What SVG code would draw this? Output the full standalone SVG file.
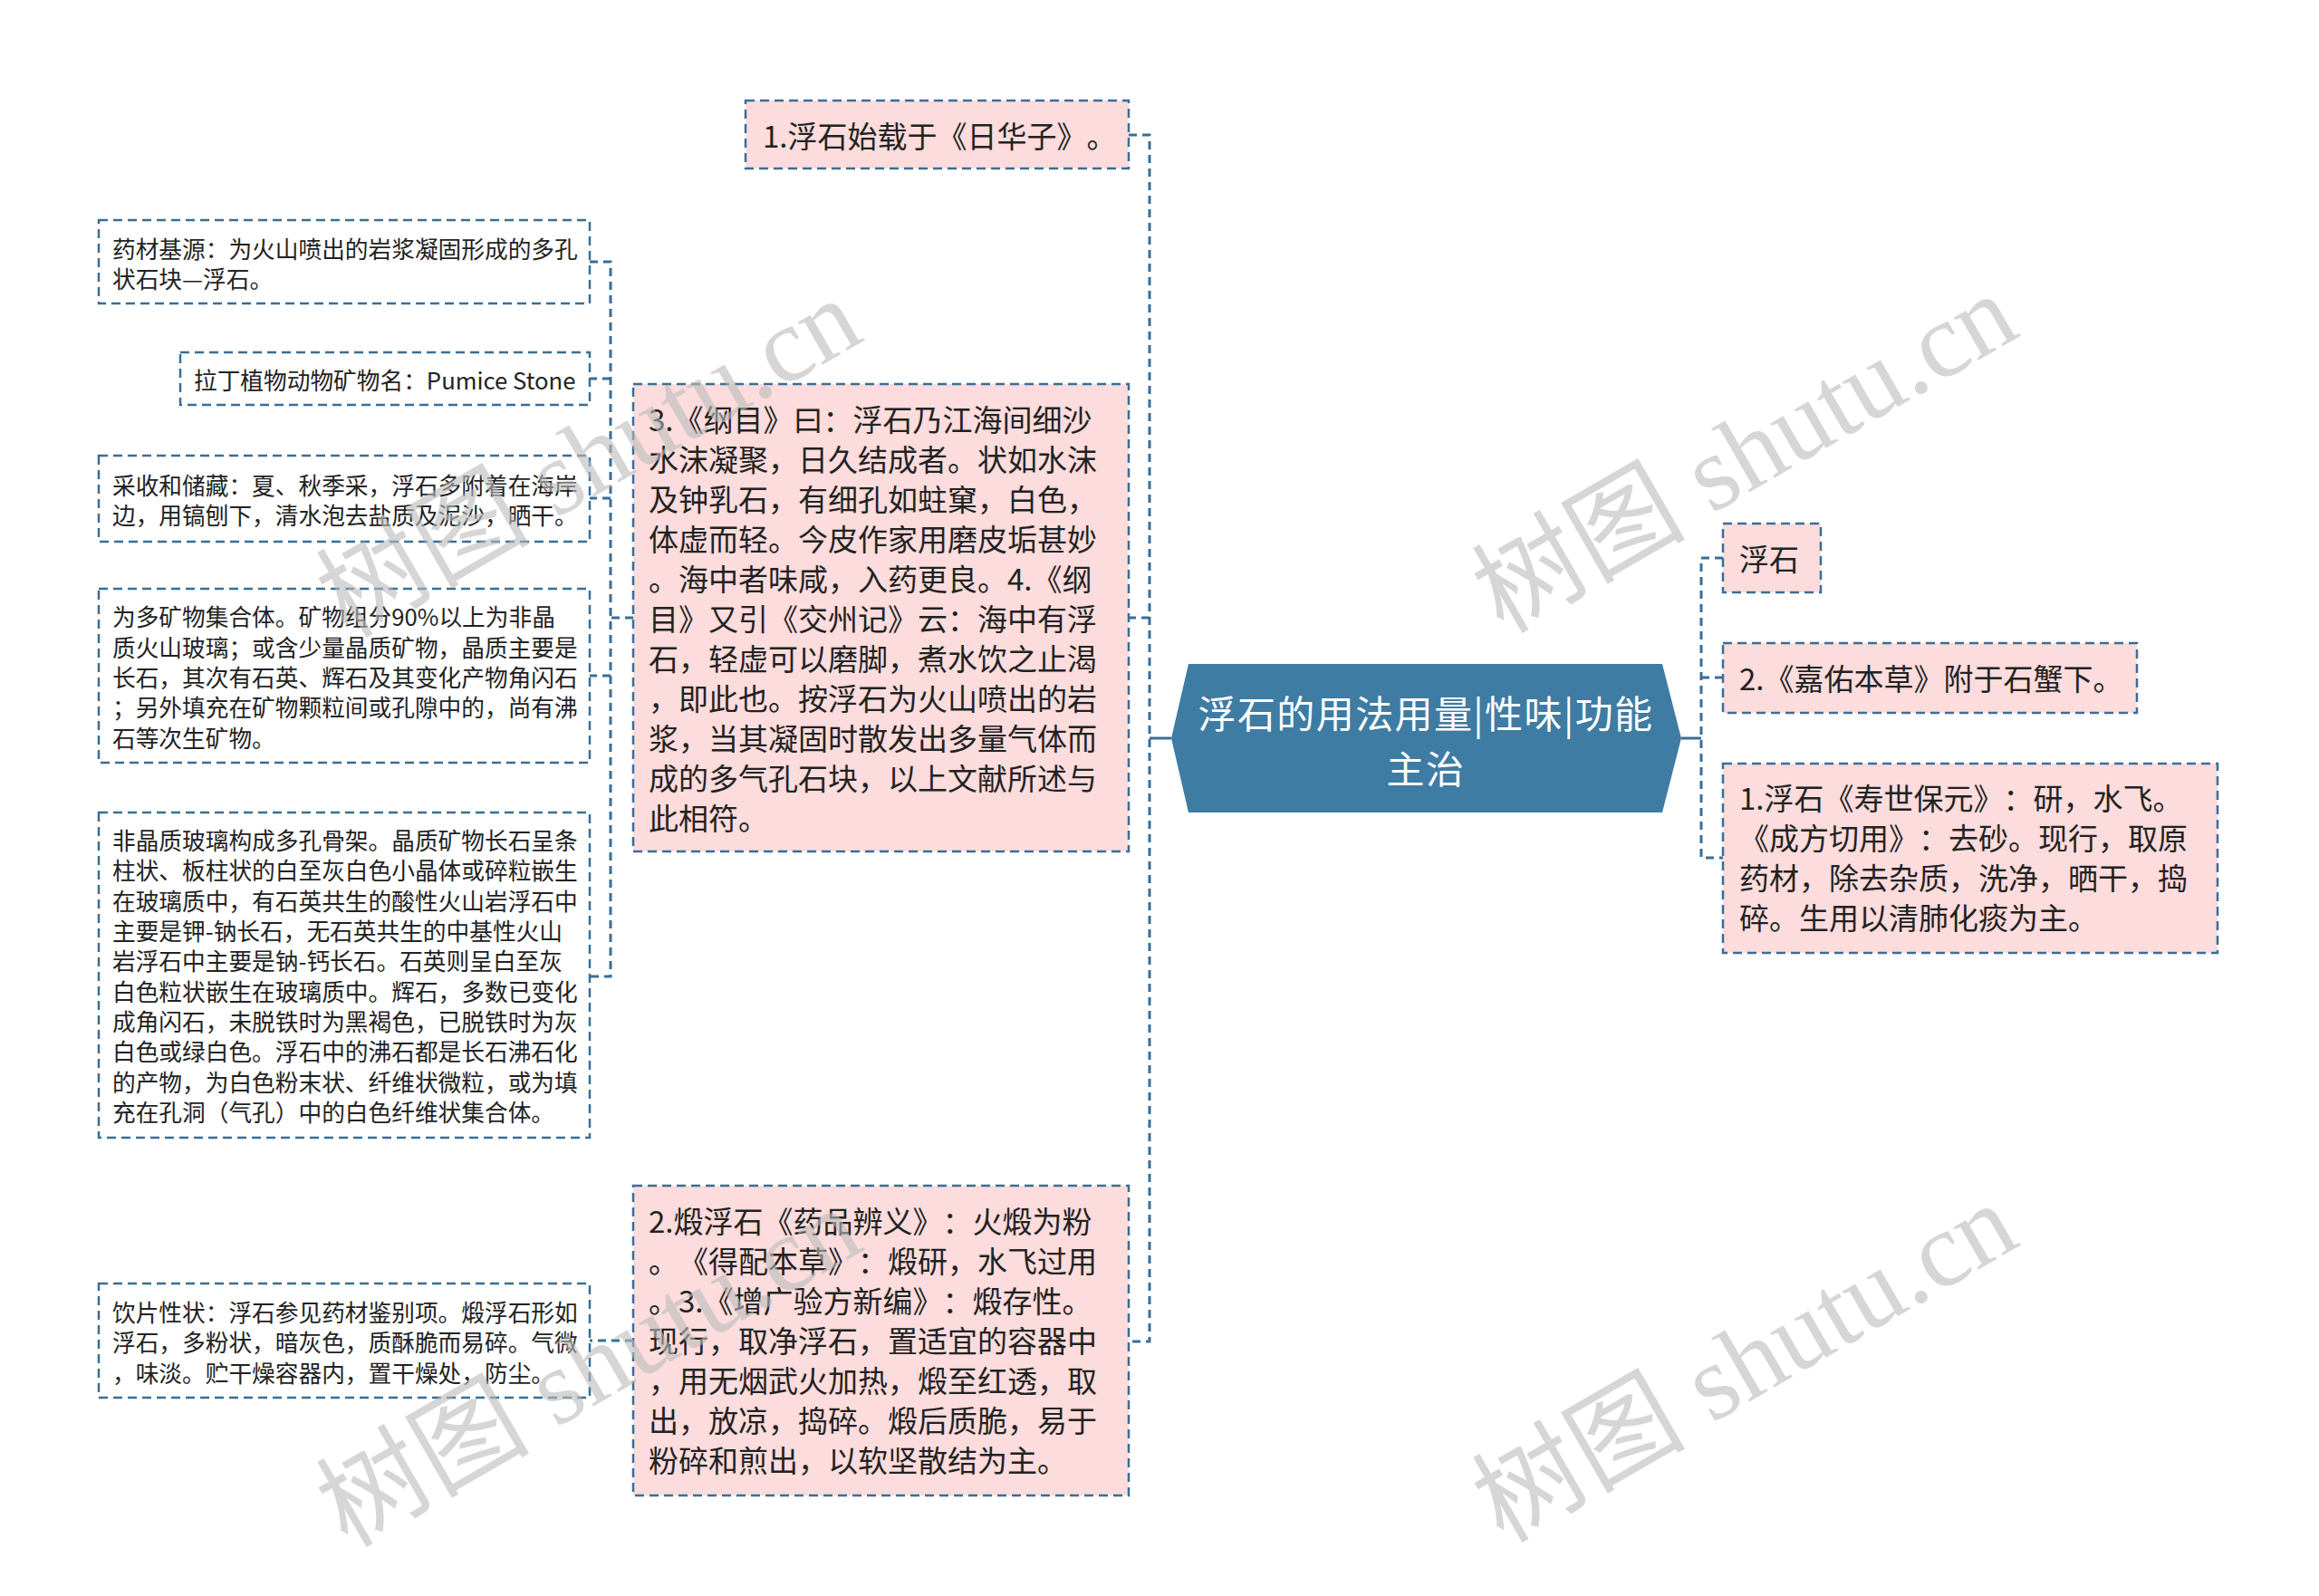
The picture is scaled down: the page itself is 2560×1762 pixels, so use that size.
<svg xmlns="http://www.w3.org/2000/svg" width="2560" height="1762" viewBox="0 0 2560 1762">
<style>
.box{fill:#fcdcdc;stroke:#3a6e96;stroke-width:2.5;stroke-dasharray:10 6;}
.wbox{fill:#ffffff;stroke:#3a6e96;stroke-width:2.5;stroke-dasharray:10 6;}
.conn{fill:none;stroke:#3a6e96;stroke-width:3;stroke-dasharray:9 6;}
.solid{fill:none;stroke:#3a6e96;stroke-width:3;}
.t{font-family:"Noto Sans CJK SC","Microsoft YaHei",sans-serif;fill:#222222;dominant-baseline:central;text-spacing-trim:space-all;}
.tb{font-size:33px;}
.ts{font-size:25.7px;}
.tc{font-family:"Noto Sans CJK SC","Microsoft YaHei",sans-serif;fill:#ffffff;font-size:42px;letter-spacing:1.4px;text-anchor:middle;dominant-baseline:central;}
.wm{font-family:"Liberation Serif","Noto Sans CJK SC",serif;font-size:118px;fill:#bbbbbb;opacity:0.6;text-anchor:middle;}
</style>
<rect width="2560" height="1762" fill="#ffffff"/>
<g id="connectors">
<path class="conn" d="M1246,149 H1269 V1481 H1246 M1269,682 H1246"/>
<path class="solid" d="M1269,815 H1293"/>
<path class="solid" d="M1856,815 H1878"/>
<path class="conn" d="M1902,616 H1878 V947 H1902 M1878,748 H1902"/>
<path class="conn" d="M699,682 H674 M651,289 H674 V1078 H651 M674,418 H651 M674,550 H651 M674,746 H651"/>
<path class="conn" d="M699,1480 H651"/>
</g>
<g id="n-center">
<polygon points="1312,733 1835,733 1856,815 1835,897 1312,897 1293,815" fill="#3f7ca3"/>
<text class="tc" x="1574" y="785">浮石的用法用量|性味|功能</text>
<text class="tc" x="1574" y="846">主治</text>
</g>
<g id="n-rihua">
<rect class="box" x="823" y="111" width="423" height="75"/>
<text class="t tb" x="842" y="149">1.浮石始载于《日华子》。</text>
</g>
<g id="n-gangmu">
<rect class="box" x="699" y="424" width="547" height="516"/>
<text class="t tb" x="716" y="462">3.《纲目》曰：浮石乃江海间细沙</text>
<text class="t tb" x="716" y="506">水沫凝聚，日久结成者。状如水沫</text>
<text class="t tb" x="716" y="550">及钟乳石，有细孔如蛀窠，白色，</text>
<text class="t tb" x="716" y="594">体虚而轻。今皮作家用磨皮垢甚妙</text>
<text class="t tb" x="716" y="638">。海中者味咸，入药更良。4.《纲</text>
<text class="t tb" x="716" y="682">目》又引《交州记》云：海中有浮</text>
<text class="t tb" x="716" y="726">石，轻虚可以磨脚，煮水饮之止渴</text>
<text class="t tb" x="716" y="770">，即此也。按浮石为火山喷出的岩</text>
<text class="t tb" x="716" y="814">浆，当其凝固时散发出多量气体而</text>
<text class="t tb" x="716" y="858">成的多气孔石块，以上文献所述与</text>
<text class="t tb" x="716" y="902">此相符。</text>
</g>
<g id="n-duan">
<rect class="box" x="699" y="1309" width="547" height="342"/>
<text class="t tb" x="716" y="1347">2.煅浮石《药品辨义》：火煅为粉</text>
<text class="t tb" x="716" y="1391">。《得配本草》：煅研，水飞过用</text>
<text class="t tb" x="716" y="1435">。3.《增广验方新编》：煅存性。</text>
<text class="t tb" x="716" y="1479">现行，取净浮石，置适宜的容器中</text>
<text class="t tb" x="716" y="1523">，用无烟武火加热，煅至红透，取</text>
<text class="t tb" x="716" y="1567">出，放凉，捣碎。煅后质脆，易于</text>
<text class="t tb" x="716" y="1611">粉碎和煎出，以软坚散结为主。</text>
</g>
<g id="n-fushi">
<rect class="box" x="1902" y="578" width="108" height="76"/>
<text class="t tb" x="1920" y="616">浮石</text>
</g>
<g id="n-jiayou">
<rect class="box" x="1902" y="710" width="457" height="77"/>
<text class="t tb" x="1920" y="748">2.《嘉佑本草》附于石蟹下。</text>
</g>
<g id="n-shoushi">
<rect class="box" x="1902" y="843" width="546" height="209"/>
<text class="t tb" x="1920" y="880">1.浮石《寿世保元》：研，水飞。</text>
<text class="t tb" x="1920" y="924">《成方切用》：去砂。现行，取原</text>
<text class="t tb" x="1920" y="968">药材，除去杂质，洗净，晒干，捣</text>
<text class="t tb" x="1920" y="1012">碎。生用以清肺化痰为主。</text>
</g>
<g id="n-yaocai">
<rect class="wbox" x="109" y="243" width="542" height="92"/>
<text class="t ts" x="124" y="273">药材基源：为火山喷出的岩浆凝固形成的多孔</text>
<text class="t ts" x="124" y="306">状石块—浮石。</text>
</g>
<g id="n-lading">
<rect class="wbox" x="199" y="389" width="452" height="58"/>
<text class="t ts" x="214" y="418">拉丁植物动物矿物名：Pumice Stone</text>
</g>
<g id="n-caishou">
<rect class="wbox" x="109" y="503" width="542" height="95"/>
<text class="t ts" x="124" y="534">采收和储藏：夏、秋季采，浮石多附着在海岸</text>
<text class="t ts" x="124" y="567">边，用镐刨下，清水泡去盐质及泥沙，晒干。</text>
</g>
<g id="n-kuangwu">
<rect class="wbox" x="109" y="650" width="542" height="192"/>
<text class="t ts" x="124" y="679">为多矿物集合体。矿物组分90%以上为非晶</text>
<text class="t ts" x="124" y="713">质火山玻璃；或含少量晶质矿物，晶质主要是</text>
<text class="t ts" x="124" y="746">长石，其次有石英、辉石及其变化产物角闪石</text>
<text class="t ts" x="124" y="779">；另外填充在矿物颗粒间或孔隙中的，尚有沸</text>
<text class="t ts" x="124" y="813">石等次生矿物。</text>
</g>
<g id="n-feijing">
<rect class="wbox" x="109" y="897" width="542" height="359"/>
<text class="t ts" x="124" y="926">非晶质玻璃构成多孔骨架。晶质矿物长石呈条</text>
<text class="t ts" x="124" y="959">柱状、板柱状的白至灰白色小晶体或碎粒嵌生</text>
<text class="t ts" x="124" y="993">在玻璃质中，有石英共生的酸性火山岩浮石中</text>
<text class="t ts" x="124" y="1026">主要是钾-钠长石，无石英共生的中基性火山</text>
<text class="t ts" x="124" y="1059">岩浮石中主要是钠-钙长石。石英则呈白至灰</text>
<text class="t ts" x="124" y="1093">白色粒状嵌生在玻璃质中。辉石，多数已变化</text>
<text class="t ts" x="124" y="1126">成角闪石，未脱铁时为黑褐色，已脱铁时为灰</text>
<text class="t ts" x="124" y="1159">白色或绿白色。浮石中的沸石都是长石沸石化</text>
<text class="t ts" x="124" y="1193">的产物，为白色粉末状、纤维状微粒，或为填</text>
<text class="t ts" x="124" y="1226">充在孔洞（气孔）中的白色纤维状集合体。</text>
</g>
<g id="n-yinpian">
<rect class="wbox" x="109" y="1417" width="542" height="126"/>
<text class="t ts" x="124" y="1447">饮片性状：浮石参见药材鉴别项。煅浮石形如</text>
<text class="t ts" x="124" y="1480">浮石，多粉状，暗灰色，质酥脆而易碎。气微</text>
<text class="t ts" x="124" y="1514">，味淡。贮干燥容器内，置干燥处，防尘。</text>
</g>
<g id="watermarks">
<text class="wm" transform="translate(670,540) rotate(-30)">树图 shutu.cn</text>
<text class="wm" transform="translate(1946,535) rotate(-30)">树图 shutu.cn</text>
<text class="wm" transform="translate(670,1544) rotate(-30)">树图 shutu.cn</text>
<text class="wm" transform="translate(1946,1539) rotate(-30)">树图 shutu.cn</text>
</g>
</svg>
